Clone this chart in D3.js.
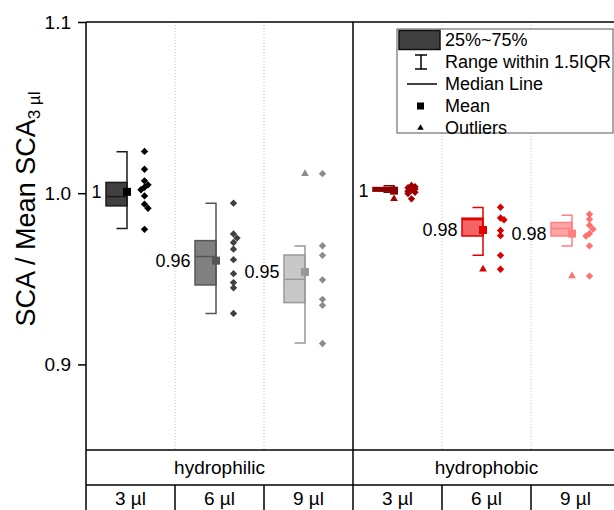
<!DOCTYPE html>
<html>
<head>
<meta charset="utf-8">
<script src="https://cdn.jsdelivr.net/npm/d3@7"></script>
<style>
  body { margin: 0; background: #fff; }
  svg { font-family: "Liberation Sans", Arial, sans-serif; display: block; }
</style>
</head>
<body>
<div class="res"></div>
<script>
// ---- data ----
const categories = ['3 µl', '6 µl', '9 µl', '3 µl', '6 µl', '9 µl'];
const groups = ['hydrophilic', 'hydrophobic'];
const yTicks = [0.9, 1.0, 1.1];

// box stats for each category
const whiskHi = [1.0242, 0.9942, 0.9692, 1.0043, 0.9916, 0.9871];
const q3      = [1.0063, 0.9723, 0.9639, 1.0033, 0.9854, 0.9829];
const median  = [0.9980, 0.9630, 0.9497, 1.0022, 0.9846, 0.9794];
const q1      = [0.9926, 0.9464, 0.9361, 1.0012, 0.9750, 0.9750];
const whiskLo = [0.9794, 0.9298, 0.9125, 1.0005, 0.9637, 0.9692];
const means   = [1.0008, 0.9606, 0.9540, 1.0015, 0.9785, 0.9764];
const meanLabels = ['1', '0.96', '0.95', '1', '0.98', '0.98'];
const outliers = [[], [], [1.0114], [0.9967], [0.9556], [0.9516]];

// raw points
const pts1 = [1.0244, 1.0140, 1.0072, 1.0049, 1.0035, 1.0020, 0.9984, 0.9936, 0.9912, 0.9789];
const pts2 = [0.9942, 0.9762, 0.9738, 0.9712, 0.9673, 0.9612, 0.9530, 0.9478, 0.9447, 0.9298];
const pts3 = [1.0114, 0.9693, 0.9637, 0.9494, 0.9380, 0.9345, 0.9122];
const pts4 = [1.0045, 1.0038, 1.0032, 1.0025, 1.0018, 1.0012, 1.0005, 0.9998, 0.9967];
const pts5 = [0.9918, 0.9855, 0.9845, 0.9782, 0.9752, 0.9637, 0.9556];
const pts6 = [0.9877, 0.9848, 0.9813, 0.9790, 0.9764, 0.9750, 0.9692, 0.9516];
const points = [pts1, pts2, pts3, pts4, pts5, pts6];

// colours
const boxFill   = ['#404040', '#808080', '#c8c8c8', '#8b0000', '#f46464', '#ffa4a4'];
const boxStroke = ['#1a1a1a', '#555555', '#999999', '#8b0000', '#e00000', '#ff8080'];
const dotColor  = ['#000000', '#404040', '#8c8c8c', '#a00000', '#d80000', '#ff7070'];

/**
 * SVG
 */
const W = 614, H = 510;
const svg = d3.select('div.res').append('svg')
    .attr('width', W).attr('height', H);

const plotLeft = 86, plotRight = 620, plotTop = 22, plotBottom = 450;

const y = d3.scaleLinear().domain([0.85, 1.1]).range([plotBottom, plotTop]);
const x = d3.scaleBand().domain(d3.range(categories.length)).range([plotLeft, plotRight]).padding(0);
const bw = x.bandwidth();

// dotted separators inside groups
svg.append('g').selectAll('line')
    .data([1, 2, 4, 5])
    .join('line')
    .attr('x1', d => x(d)).attr('x2', d => x(d))
    .attr('y1', plotTop).attr('y2', plotBottom)
    .attr('stroke', '#bdbdbd').attr('stroke-width', 1)
    .attr('stroke-dasharray', '1,2');

// frame
svg.append('line').attr('x1', plotLeft).attr('x2', plotRight).attr('y1', plotTop).attr('y2', plotTop)
    .attr('stroke', '#000').attr('stroke-width', 1.5);
svg.append('line').attr('x1', plotLeft).attr('x2', plotLeft).attr('y1', plotTop).attr('y2', H)
    .attr('stroke', '#000').attr('stroke-width', 1.5);
svg.append('line').attr('x1', x(3)).attr('x2', x(3)).attr('y1', plotTop).attr('y2', H)
    .attr('stroke', '#000').attr('stroke-width', 1.5);
[plotBottom, 485].forEach(v => {
    svg.append('line').attr('x1', plotLeft).attr('x2', plotRight).attr('y1', v).attr('y2', v)
        .attr('stroke', '#000').attr('stroke-width', 1.5);
});
svg.append('g').selectAll('line')
    .data([1, 2, 4, 5])
    .join('line')
    .attr('x1', d => x(d)).attr('x2', d => x(d))
    .attr('y1', 485).attr('y2', H)
    .attr('stroke', '#000').attr('stroke-width', 1.5);

// Y axis
const yAxis = d3.axisLeft(y).tickValues(yTicks).tickFormat(d3.format('.1f')).tickSize(8).tickPadding(7);
const gy = svg.append('g').attr('transform', `translate(${plotLeft},0)`).call(yAxis);
gy.select('.domain').remove();
gy.selectAll('line').attr('stroke', '#000').attr('stroke-width', 1.5);
gy.selectAll('text').style('font-size', '19px').attr('fill', '#000');

// Y title
const yt = svg.append('text')
    .attr('transform', 'translate(35,209) rotate(-90)')
    .attr('text-anchor', 'middle')
    .style('font-size', '27px');
yt.append('tspan').text('SCA / Mean SCA');
yt.append('tspan').attr('dy', 5).style('font-size', '17px').text('3 µl');

// bottom table labels
svg.append('g').selectAll('text')
    .data(groups)
    .join('text')
    .attr('x', (d, i) => (x(i * 3) + x(i * 3 + 2) + bw) / 2)
    .attr('y', 467.5)
    .attr('text-anchor', 'middle').attr('dominant-baseline', 'central')
    .style('font-size', '19px')
    .text(d => d);
svg.append('g').selectAll('text')
    .data(categories)
    .join('text')
    .attr('x', (d, i) => x(i) + bw / 2)
    .attr('y', 498)
    .attr('text-anchor', 'middle').attr('dominant-baseline', 'central')
    .style('font-size', '19px')
    .text(d => d);

/**
 * BOXES
 */
const boxL = 20, boxR = 41, capL = 30.5, ptX = 58.5;
const diamond = d3.symbol(d3.symbolSquare, 27);
const tri = d3.symbol(d3.symbolTriangle, 26);

categories.forEach((c, i) => {
    const b = x(i);
    const g = svg.append('g');
    // box
    g.append('rect')
        .attr('x', b + boxL).attr('width', boxR - boxL)
        .attr('y', y(q3[i])).attr('height', Math.max(y(q1[i]) - y(q3[i]), 1))
        .attr('fill', boxFill[i]).attr('stroke', boxStroke[i]).attr('stroke-width', 1.5);
    // median
    g.append('line')
        .attr('x1', b + boxL).attr('x2', b + boxR)
        .attr('y1', y(median[i])).attr('y2', y(median[i]))
        .attr('stroke', boxStroke[i]).attr('stroke-width', 1.5);
    // whisker bracket
    g.append('path')
        .attr('d', `M${b + capL},${y(whiskHi[i])}H${b + boxR}V${y(whiskLo[i])}H${b + capL}`)
        .attr('fill', 'none').attr('stroke', boxStroke[i]).attr('stroke-width', 1.5);
    // mean
    g.append('rect')
        .attr('x', b + boxR - 4).attr('y', y(means[i]) - 4)
        .attr('width', 8).attr('height', 8)
        .attr('fill', dotColor[i] === '#000000' ? '#000' : boxStroke[i]);
    // outliers
    g.selectAll('path.out')
        .data(outliers[i])
        .join('path').attr('class', 'out')
        .attr('d', tri)
        .attr('transform', d => `translate(${b + boxR},${y(d)})`)
        .attr('fill', dotColor[i]);
    // mean label
    g.append('text')
        .attr('x', b + 15.5).attr('y', y(means[i]))
        .attr('text-anchor', 'end').attr('dominant-baseline', 'central')
        .style('font-size', '18px')
        .text(meanLabels[i]);
    // raw points with a small dodge for overlaps
    const placed = [];
    const sorted = points[i].slice().sort((a, b2) => b2 - a);
    let flip = 1;
    sorted.forEach(v => {
        const py = y(v);
        let dx = 0;
        if (placed.some(p => Math.abs(p.py - py) < 4.5 && p.dx === 0)) {
            dx = 3.5 * flip;
            flip = -flip;
        }
        placed.push({ v, py, dx });
    });
    g.selectAll('path.pt')
        .data(placed)
        .join('path').attr('class', 'pt')
        .attr('d', diamond)
        .attr('transform', d => `translate(${b + ptX + d.dx},${d.py}) rotate(45)`)
        .attr('fill', dotColor[i]);
});

/**
 * LEGEND
 */
const lg = svg.append('g');
lg.append('rect').attr('x', 397).attr('y', 29).attr('width', 216).attr('height', 104)
    .attr('fill', '#fff').attr('stroke', '#555').attr('stroke-width', 1);
const legendText = ['25%~75%', 'Range within 1.5IQR', 'Median Line', 'Mean', 'Outliers'];
const rowY = [40, 62, 84, 106, 128];
lg.selectAll('text')
    .data(legendText)
    .join('text')
    .attr('x', 445).attr('y', (d, i) => rowY[i])
    .attr('dominant-baseline', 'central')
    .style('font-size', '18px')
    .text(d => d);
lg.append('rect').attr('x', 399).attr('y', 30.5).attr('width', 41).attr('height', 19)
    .attr('fill', '#404040').attr('stroke', '#111').attr('stroke-width', 1.5);
lg.append('path').attr('d', `M415,${rowY[1] - 7}H427M421,${rowY[1] - 7}V${rowY[1] + 7}M415,${rowY[1] + 7}H427`)
    .attr('stroke', '#000').attr('stroke-width', 1.5).attr('fill', 'none');
lg.append('line').attr('x1', 407).attr('x2', 437).attr('y1', rowY[2]).attr('y2', rowY[2])
    .attr('stroke', '#000').attr('stroke-width', 1.5);
lg.append('rect').attr('x', 417).attr('y', rowY[3] - 3.5).attr('width', 7).attr('height', 7).attr('fill', '#000');
lg.append('path').attr('d', d3.symbol(d3.symbolTriangle, 18))
    .attr('transform', `translate(420.5,${rowY[4]})`).attr('fill', '#000');
</script>
</body>
</html>
